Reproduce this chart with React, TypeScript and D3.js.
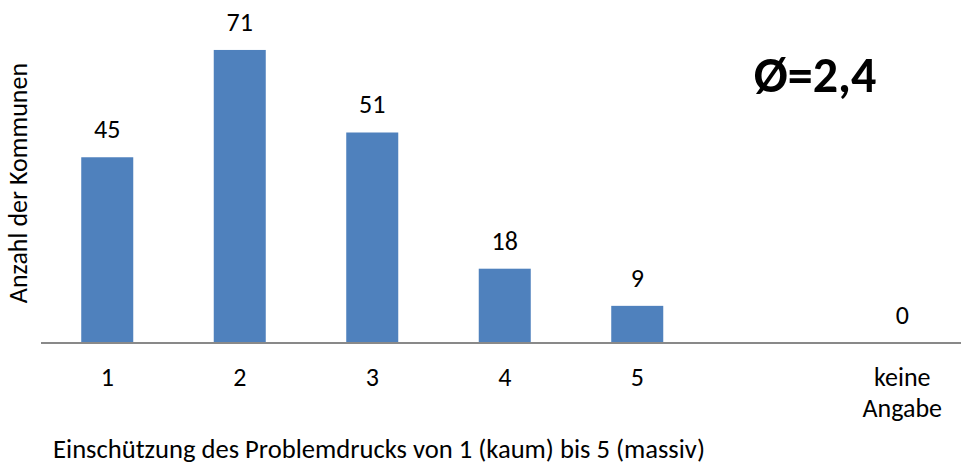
import React, { useRef, useEffect } from 'react';
import * as d3 from 'd3';

const categories = ['1', '2', '3', '4', '5', '', 'keine Angabe'];
const values: (number | null)[] = [45, 71, 51, 18, 9, null, 0];
const averageLabel = 'Ø=2,4';
const xTitle = 'Einschützung des Problemdrucks von 1 (kaum) bis 5 (massiv)';
const yTitle = 'Anzahl der Kommunen';

const FONT = "Carlito, Lato, 'Open Sans', sans-serif";

export default function App() {
  const svgRef = useRef<SVGSVGElement>(null);

  useEffect(() => {
    const width = 961;
    const height = 467;
    const svg = d3.select(svgRef.current);
    svg.selectAll('*').remove();
    svg.attr('width', width).attr('height', height).attr('viewBox', `0 0 ${width} ${height}`);

    const baseY = 343;
    const x = d3.scaleBand<string>()
      .domain(categories)
      .range([41, 41 + 132.5 * categories.length])
      .paddingInner(0.6075)
      .paddingOuter(0.30375);

    const y = d3.scaleLinear().domain([0, 80]).range([baseY, 12.8]);

    const data = categories.map((c, i) => ({ c, v: values[i] }));

    // bars
    svg.append('g')
      .selectAll('rect')
      .data(data.filter(d => d.v !== null && d.v > 0))
      .join('rect')
      .attr('x', d => x(d.c)!)
      .attr('y', d => y(d.v as number))
      .attr('width', x.bandwidth())
      .attr('height', d => baseY - y(d.v as number))
      .attr('fill', '#4f81bd');

    // baseline
    svg.append('line')
      .attr('x1', 41).attr('x2', width)
      .attr('y1', baseY).attr('y2', baseY)
      .attr('stroke', '#898989')
      .attr('stroke-width', 2);

    // value labels
    svg.append('g')
      .selectAll('text')
      .data(data.filter(d => d.v !== null))
      .join('text')
      .attr('x', d => x(d.c)! + x.bandwidth() / 2)
      .attr('y', d => y(d.v as number) - 19)
      .attr('text-anchor', 'middle')
      .attr('font-family', FONT)
      .attr('font-size', 26)
      .attr('fill', '#000')
      .text(d => String(d.v));

    // category labels
    const tick = svg.append('g')
      .selectAll('text')
      .data(categories.filter(c => c !== ''))
      .join('text')
      .attr('x', d => x(d)! + x.bandwidth() / 2)
      .attr('y', 386)
      .attr('text-anchor', 'middle')
      .attr('font-family', FONT)
      .attr('font-size', 26)
      .attr('fill', '#000');
    tick.each(function (d) {
      const words = d.split(' ');
      const t = d3.select(this);
      words.forEach((w, i) => {
        t.append('tspan')
          .attr('x', x(d)! + x.bandwidth() / 2)
          .attr('dy', i === 0 ? 0 : 31)
          .text(w);
      });
    });

    // axis titles
    svg.append('text')
      .attr('x', 379)
      .attr('y', 458)
      .attr('text-anchor', 'middle')
      .attr('font-family', FONT)
      .attr('font-size', 26.6)
      .attr('fill', '#000')
      .text(xTitle);

    svg.append('text')
      .attr('transform', 'translate(27,183) rotate(-90)')
      .attr('text-anchor', 'middle')
      .attr('font-family', FONT)
      .attr('font-size', 26)
      .attr('fill', '#000')
      .text(yTitle);

    svg.append('text')
      .attr('x', 815)
      .attr('y', 92)
      .attr('text-anchor', 'middle')
      .attr('font-family', FONT)
      .attr('font-weight', 'bold')
      .attr('font-size', 50)
      .attr('fill', '#000')
      .text(averageLabel);
  }, []);

  return (
    <svg ref={svgRef} style={{ position: 'absolute', left: 0, top: 0, background: '#fff' }} />
  );
}
